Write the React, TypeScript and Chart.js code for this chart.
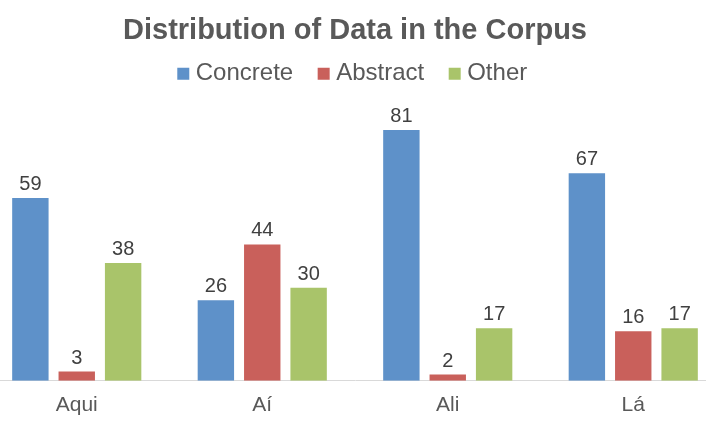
import React, { useEffect, useRef } from "react";
import { Chart, registerables } from "chart.js";

Chart.register(...registerables);

const chartTitle = "Distribution of Data in the Corpus";
const categories = ["Aqui", "Aí", "Ali", "Lá"];
const seriesNames = ["Concrete", "Abstract", "Other"];
const concreteValues = [59, 26, 81, 67];
const abstractValues = [3, 44, 2, 16];
const otherValues = [38, 30, 17, 17];
const seriesColors = ["#5e91c9", "#c9605b", "#a9c46a"];

const FONT = '"Liberation Sans", Arial, Helvetica, sans-serif';

const valueLabels = {
  id: "valueLabels",
  afterDatasetsDraw(chart: any) {
    const ctx = chart.ctx;
    ctx.save();
    ctx.font = `20px ${FONT}`;
    ctx.fillStyle = "#404040";
    ctx.textAlign = "center";
    ctx.textBaseline = "alphabetic";
    chart.data.datasets.forEach((ds: any, i: number) => {
      const meta = chart.getDatasetMeta(i);
      meta.data.forEach((el: any, j: number) => {
        ctx.fillText(String(ds.data[j]), el.x, el.y - 8);
      });
    });
    ctx.restore();
  },
};

export default function App() {
  const canvasRef = useRef<HTMLCanvasElement | null>(null);

  useEffect(() => {
    if (!canvasRef.current) return;
    const seriesData = [concreteValues, abstractValues, otherValues];
    const chart = new Chart(canvasRef.current, {
      type: "bar",
      data: {
        labels: categories,
        datasets: seriesNames.map((name, i) => ({
          label: name,
          data: seriesData[i],
          backgroundColor: seriesColors[i],
          borderWidth: 0,
          categoryPercentage: 0.75,
          barPercentage: 0.785,
        })),
      },
      options: {
        animation: false,
        responsive: true,
        maintainAspectRatio: false,
        layout: { padding: { top: 0, bottom: 8, left: 0, right: 0 } },
        plugins: {
          title: {
            display: true,
            text: chartTitle,
            color: "#595959",
            font: { family: FONT, size: 29, weight: "bold" },
            padding: { top: 14, bottom: -17 },
          },
          legend: {
            display: true,
            position: "top",
            labels: {
              color: "#595959",
              font: { family: FONT, size: 24 },
              usePointStyle: true,
              pointStyle: "rect",
              boxWidth: 1,
              boxHeight: 12,
              padding: 30,
            },
          },
          tooltip: { enabled: false },
        },
        scales: {
          x: {
            grid: { display: false, drawTicks: false },
            border: { display: true, color: "#d9d9d9", width: 1 },
            ticks: {
              color: "#595959",
              font: { family: FONT, size: 21 },
              padding: 12,
            },
          },
          y: {
            display: false,
            min: 0,
            max: 92,
          },
        },
      },
      plugins: [valueLabels],
    });
    return () => chart.destroy();
  }, []);

  return (
    <div
      style={{
        position: "fixed",
        left: 0,
        top: 0,
        width: 706,
        height: 425,
        overflow: "hidden",
        background: "#ffffff",
      }}
    >
      <div style={{ position: "absolute", left: -16, top: 0, width: 742, height: 438 }}>
        <canvas ref={canvasRef} />
      </div>
    </div>
  );
}
